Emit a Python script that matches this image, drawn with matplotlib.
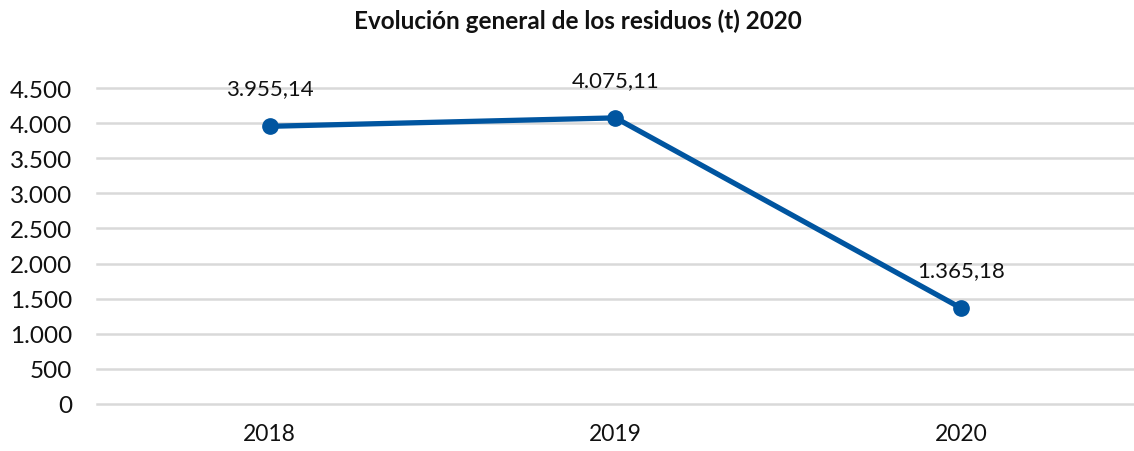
import matplotlib
matplotlib.use("Agg")
import matplotlib.pyplot as plt

years = ["2018", "2019", "2020"]
values = [3955.14, 4075.11, 1365.18]
value_labels = ["3.955,14", "4.075,11", "1.365,18"]
yticks = [0, 500, 1000, 1500, 2000, 2500, 3000, 3500, 4000, 4500]

plt.rcParams['font.family'] = ['Lato', 'DejaVu Sans']

fig = plt.figure(figsize=(11.34, 4.52), dpi=100)
ax = fig.add_axes([0.0855, 0.104, 0.9145, 0.699])

x = list(range(len(years)))
color = "#0055A0"
ax.plot(x, values, color=color, lw=3.8, marker="o", ms=11, zorder=3, solid_capstyle="round")
for xi, v, lab in zip(x, values, value_labels):
    ax.annotate(lab, (xi, v), xytext=(0, 20), textcoords="offset points",
                ha="center", va="bottom", fontsize=16, color="#111111")

ax.set_xlim(-0.5, len(years) - 0.5)
ax.set_ylim(0, 4500)
ax.set_yticks(yticks)
ax.set_yticklabels([f"{t:,}".replace(",", ".") for t in yticks])
ax.set_xticks(x)
ax.set_xticklabels(years)
ax.tick_params(axis="both", length=0, colors="#111111")
ax.tick_params(axis="y", pad=18, labelsize=17.5)
ax.tick_params(axis="x", pad=14, labelsize=16.5)
ax.grid(axis="y", color="#d9d9d9", lw=1.8)
for gl in ax.get_ygridlines():
    gl.set_clip_on(False)
ax.set_axisbelow(True)
for s in ax.spines.values():
    s.set_visible(False)

fig.text(0.51, 0.952, "Evolución general de los residuos (t) 2020", ha="center", va="center",
         fontsize=17.5, fontweight="bold", color="#111111")

fig.savefig("out.png", dpi=100)
